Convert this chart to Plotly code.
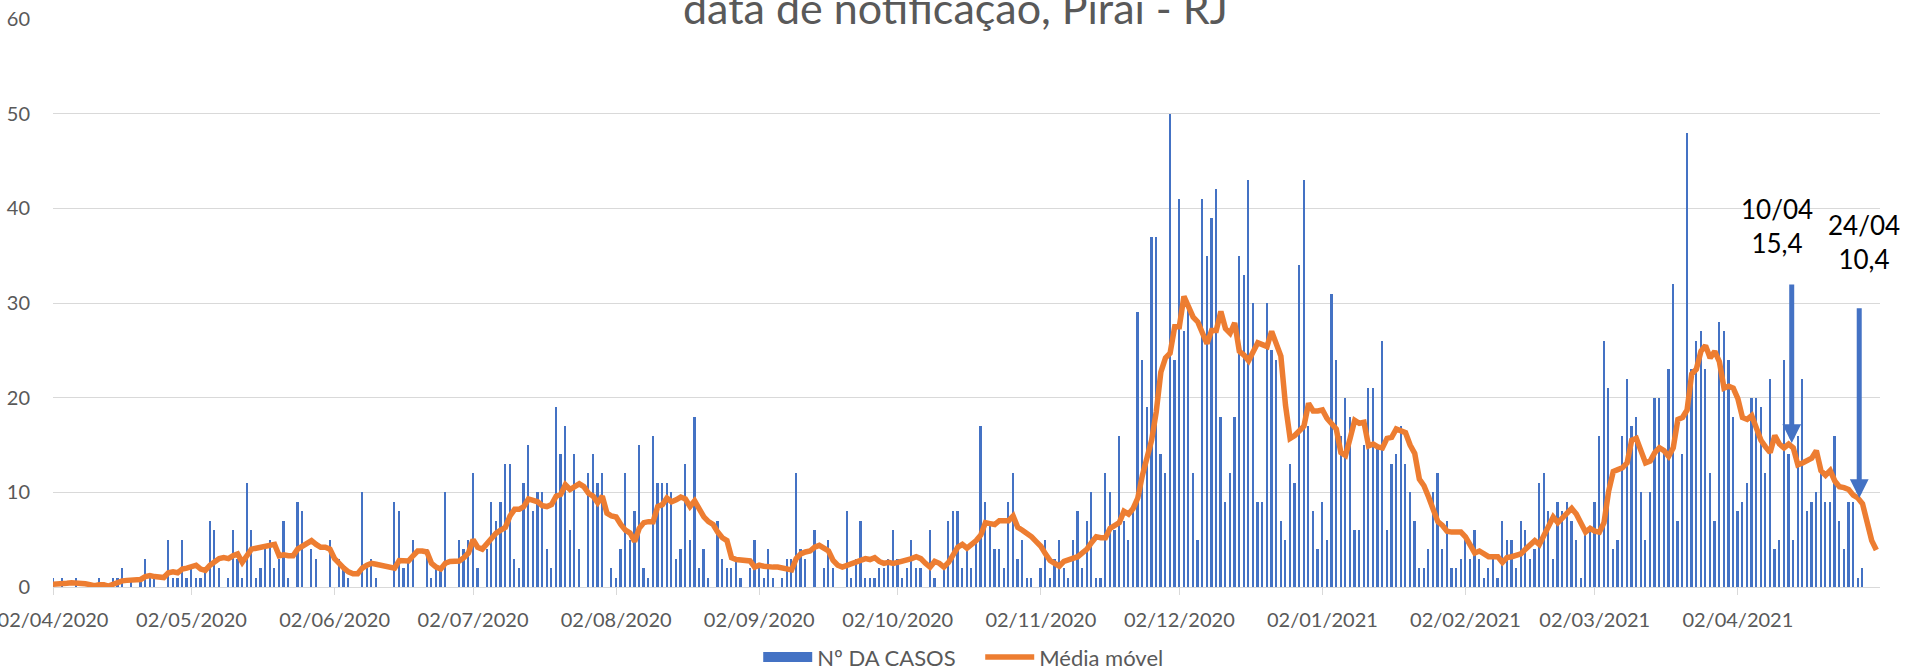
import pandas as pd
import plotly.graph_objects as go

# ---------------- data ----------------
start_date = "2020-04-02"

casos = [
    1, 0, 1, 0, 0, 1, 0, 0, 0, 0,
    1, 0, 0, 1, 1, 2, 0, 1, 0, 1,
    3, 1, 1, 0, 0, 5, 1, 1, 5, 1,
    2, 1, 1, 2, 7, 6, 2, 0, 1, 6,
    3, 1, 11, 6, 1, 2, 4, 5, 2, 3,
    7, 1, 0, 9, 8, 0, 4, 3, 0, 0,
    5, 0, 3, 2, 1, 0, 0, 10, 2, 3,
    1, 0, 0, 0, 9, 8, 2, 3, 5, 0,
    0, 4, 1, 2, 2, 10, 0, 0, 5, 4,
    5, 12, 2, 0, 4, 9, 7, 9, 13, 13,
    3, 2, 11, 15, 8, 10, 10, 4, 2, 19,
    14, 17, 6, 14, 4, 0, 12, 14, 11, 12,
    0, 2, 1, 4, 12, 5, 8, 15, 2, 1,
    16, 11, 11, 11, 10, 3, 4, 13, 5, 18,
    2, 4, 1, 0, 7, 3, 2, 2, 3, 1,
    0, 2, 5, 2, 1, 4, 1, 0, 1, 3,
    3, 12, 4, 3, 0, 6, 0, 2, 5, 2,
    0, 0, 8, 1, 3, 7, 1, 1, 1, 2,
    2, 3, 6, 3, 1, 2, 5, 2, 2, 0,
    6, 1, 0, 2, 7, 8, 8, 2, 4, 2,
    5, 17, 9, 7, 4, 4, 2, 9, 12, 3,
    5, 1, 1, 0, 2, 5, 1, 3, 5, 2,
    1, 5, 8, 2, 7, 10, 1, 1, 12, 10,
    6, 16, 7, 5, 8, 29, 24, 19, 37, 37,
    14, 12, 50, 24, 41, 27, 30, 12, 5, 41,
    35, 39, 42, 18, 9, 12, 18, 35, 33, 43,
    30, 9, 9, 30, 25, 24, 7, 5, 13, 11,
    34, 43, 17, 8, 4, 9, 5, 31, 24, 16,
    20, 18, 6, 6, 15, 21, 21, 15, 26, 6,
    13, 14, 17, 13, 10, 7, 2, 2, 4, 10,
    12, 4, 7, 2, 2, 3, 5, 3, 6, 3,
    1, 2, 3, 1, 7, 5, 5, 2, 7, 6,
    3, 4, 11, 12, 8, 3, 9, 8, 9, 7,
    5, 1, 6, 6, 9, 16, 26, 21, 4, 5,
    16, 22, 17, 18, 10, 5, 10, 20, 20, 14,
    23, 32, 7, 14, 48, 23, 26, 27, 23, 12,
    7, 28, 27, 24, 18, 8, 9, 11, 20, 20,
    19, 12, 22, 4, 5, 24, 14, 5, 16, 22,
    8, 9, 10, 13, 9, 9, 16, 7, 4, 9,
    9, 1, 2, 0, 0, 0,
]

media_movel = [
    0.3, 0.3, 0.35, 0.4, 0.45, 0.45, 0.4, 0.35, 0.25, 0.15,
    0.25, 0.25, 0.1, 0.3, 0.5, 0.65, 0.7, 0.7, 0.7, 0.8,
    1.1, 1.2, 1.1, 1.1, 1.0, 1.5, 1.6, 1.5, 1.9, 2.0,
    2.2, 2.3, 1.9, 1.75, 2.3, 2.7, 3.0, 3.1, 3.0, 3.3,
    3.5, 2.6, 3.3, 4.0, 4.1, 4.2, 4.2, 4.3, 4.5, 3.3,
    3.4, 3.3, 3.3, 4.0, 4.3, 4.6, 4.9, 4.5, 4.2, 4.2,
    4.0, 3.0, 2.4, 2.0, 1.6, 1.4, 1.4, 2.0, 2.3, 2.5,
    2.4, 2.3, 2.2, 2.1, 2.0, 2.8, 2.8, 2.75, 3.3, 3.8,
    3.8, 3.7, 2.5, 2.1, 1.9, 2.5, 2.7, 2.7, 2.75, 3.1,
    3.6, 5.0, 4.2, 4.0, 4.6, 5.1, 5.7, 6.0, 6.3, 7.5,
    8.2, 8.2, 8.5, 9.3, 9.2, 9.0, 8.6, 8.5, 8.7, 9.6,
    9.8, 10.8, 10.3, 10.6, 10.9, 10.6, 9.9, 9.6, 8.9, 9.6,
    7.8, 7.5, 7.4, 6.6, 6.0, 5.7, 4.8, 6.2, 6.8, 6.9,
    6.9, 8.5, 8.7, 9.4, 9.0, 9.2, 9.5, 9.3, 8.5, 9.1,
    8.2, 7.4, 6.9, 6.6, 5.8, 5.2, 4.9, 3.1, 2.9, 2.85,
    2.8, 2.75, 2.1, 2.3, 2.2, 2.1, 2.1, 2.1, 2.0, 1.8,
    1.8, 3.0, 3.5, 3.7, 3.8, 4.2, 4.4, 4.1, 3.8, 2.8,
    2.3, 2.1, 2.3, 2.5, 2.7, 2.8, 3.0, 2.9, 3.1, 2.7,
    2.5, 2.6, 2.5, 2.6, 2.7, 2.8, 3.0, 3.2, 3.0, 2.5,
    2.1, 2.7, 2.5, 2.1, 2.6, 3.4, 4.2, 4.5, 4.1, 4.5,
    4.9, 5.5, 6.8, 6.7, 6.6, 7.0, 7.0, 7.0, 7.5, 6.3,
    6.0, 5.7, 5.3, 4.8, 4.3, 3.5, 2.8, 2.5, 2.2, 2.7,
    2.9, 3.0, 3.2, 3.6, 4.0, 4.7, 5.3, 5.2, 5.2, 6.2,
    6.5, 6.8, 8.0, 7.7, 8.3, 9.4, 11.8, 13.5, 15.5, 18.5,
    22.7, 24.2, 24.7, 27.5, 27.5, 30.7, 29.5, 28.5, 28.0, 27.0,
    25.7, 27.1, 27.1, 29.1, 27.3, 26.8, 27.9, 24.9, 24.5, 23.9,
    25.0, 25.8, 25.6, 25.4, 27.0, 25.5, 24.4, 19.2, 15.7, 16.0,
    16.5, 17.0, 19.4, 18.6, 18.6, 18.7, 17.8, 17.2, 16.7, 14.2,
    13.9, 15.7, 17.6, 17.3, 17.4, 14.9, 15.1, 14.8, 14.7, 15.7,
    15.8, 16.7, 16.5, 16.3, 15.0, 14.1, 11.4, 10.7, 9.5, 8.0,
    6.9, 6.5, 5.9, 5.8, 5.8, 5.8, 5.3, 4.5, 3.6, 3.8,
    3.5, 3.2, 3.2, 3.2, 2.6, 3.1, 3.2, 3.3, 3.5, 4.0,
    4.5, 4.9, 4.5, 5.4, 6.5, 7.4, 6.8, 7.3, 7.9, 8.3,
    7.7, 6.8, 5.8, 6.2, 5.9, 5.8, 6.8, 10.1, 12.2, 12.4,
    12.6, 13.1, 15.5, 15.7, 14.4, 13.1, 13.3, 14.2, 14.7, 14.4,
    13.8, 14.7, 17.7, 17.9, 18.7, 22.5, 23.0, 24.9, 25.5, 24.2,
    24.9, 23.8, 21.0, 21.2, 21.0, 19.9, 17.9, 17.7, 18.1, 16.8,
    15.5, 14.8, 14.2, 16.0, 15.1, 14.7, 15.1, 14.7, 12.9, 13.1,
    13.4, 13.6, 14.4, 12.3, 11.8, 12.3, 11.2, 10.6, 10.5, 10.3,
    9.7, 9.4, 8.8, 7.1, 4.9, 3.9,
]

tick_dates = ["2020-04-02", "2020-05-02", "2020-06-02", "2020-07-02",
              "2020-08-02", "2020-09-02", "2020-10-02", "2020-11-02",
              "2020-12-02", "2021-01-02", "2021-02-02", "2021-03-02",
              "2021-04-02"]
tick_labels = ["02/04/2020", "02/05/2020", "02/06/2020", "02/07/2020",
               "02/08/2020", "02/09/2020", "02/10/2020", "02/11/2020",
               "02/12/2020", "02/01/2021", "02/02/2021", "02/03/2021",
               "02/04/2021"]

y_ticks = [0, 10, 20, 30, 40, 50, 60]

callout_texts = ["10/04<br>15,4", "24/04<br>10,4"]

assert len(casos) == len(media_movel)
datas = pd.date_range(start_date, periods=len(casos), freq="D")

BLUE = "#4472C4"
ORANGE = "#ED7D31"
GREY_TXT = "#595959"
GRID = "#D9D9D9"
FONT = "Lato"

fig = go.Figure()
fig.add_trace(go.Bar(
    x=datas, y=casos, name="Nº DA CASOS",
    marker=dict(color=BLUE, line=dict(width=0)),
    width=0.38 * 86400000, showlegend=False,
))
# legend entry for the bars (wide rectangle symbol, as in the original)
fig.add_trace(go.Scatter(
    x=[None], y=[None], name="Nº DA CASOS", mode="lines",
    line=dict(color=BLUE, width=12), hoverinfo="skip",
))
fig.add_trace(go.Scatter(
    x=datas, y=media_movel, name="Média móvel", mode="lines",
    line=dict(color=ORANGE, width=5.5, shape="linear"),
))

annotations = [
    dict(text="data de notificação, Piraí - RJ", xref="paper", yref="paper",
         x=0.494, y=1.020, xanchor="center", yanchor="middle", showarrow=False,
         font=dict(family=FONT, size=43, color=GREY_TXT)),
    # callout arrows
    dict(x="2021-04-13 16:00", y=15.2, ax="2021-04-13 16:00", ay=32.1,
         xref="x", yref="y", axref="x", ayref="y", text="", showarrow=True,
         arrowhead=2, arrowsize=0.75, arrowwidth=5, arrowcolor=BLUE),
    dict(x="2021-04-28 07:00", y=9.4, ax="2021-04-28 07:00", ay=29.6,
         xref="x", yref="y", axref="x", ayref="y", text="", showarrow=True,
         arrowhead=2, arrowsize=0.75, arrowwidth=5, arrowcolor=BLUE),
    dict(x="2021-04-10 12:00", y=38.1, xref="x", yref="y", text=callout_texts[0],
         showarrow=False, xanchor="center", yanchor="middle",
         font=dict(family=FONT, size=26, color="#000000")),
    dict(x="2021-04-29 06:00", y=36.4, xref="x", yref="y", text=callout_texts[1],
         showarrow=False, xanchor="center", yanchor="middle",
         font=dict(family=FONT, size=26, color="#000000")),
]

fig.update_layout(
    width=1905, height=667,
    margin=dict(l=53, r=25, t=18.5, b=80, autoexpand=False),
    paper_bgcolor="white", plot_bgcolor="white",
    bargap=0,
    font=dict(family=FONT, color=GREY_TXT, size=19),
    showlegend=True,
    legend=dict(orientation="h", x=0.386, xanchor="left", y=-0.0865, yanchor="top",
                font=dict(family=FONT, size=22, color=GREY_TXT),
                itemwidth=49, entrywidth=158, entrywidthmode="pixels",
                traceorder="normal"),
    annotations=annotations,
)

fig.update_xaxes(
    type="date", automargin=False,
    range=["2020-04-02 00:00", "2021-05-02 19:00"],
    tickvals=tick_dates, ticktext=tick_labels,
    showgrid=False, showline=True, linecolor=GRID, linewidth=1.3,
    ticks="outside", ticklen=7, tickcolor=GRID, tickwidth=1.3,
    tickfont=dict(family=FONT, size=20, color=GREY_TXT),
    ticklabelstandoff=8, ticklabeloverflow="allow",
    zeroline=False,
)
fig.update_yaxes(
    automargin=False,
    range=[0, 60], tickvals=y_ticks,
    showgrid=True, gridcolor=GRID, gridwidth=1.3,
    showline=False, zeroline=False, ticks="",
    tickfont=dict(family=FONT, size=20, color=GREY_TXT),
    ticklabelstandoff=22, ticklabeloverflow="allow",
)

fig.write_html("out.html", config={"displayModeBar": False},
               post_script="document.body.style.margin='0';")
